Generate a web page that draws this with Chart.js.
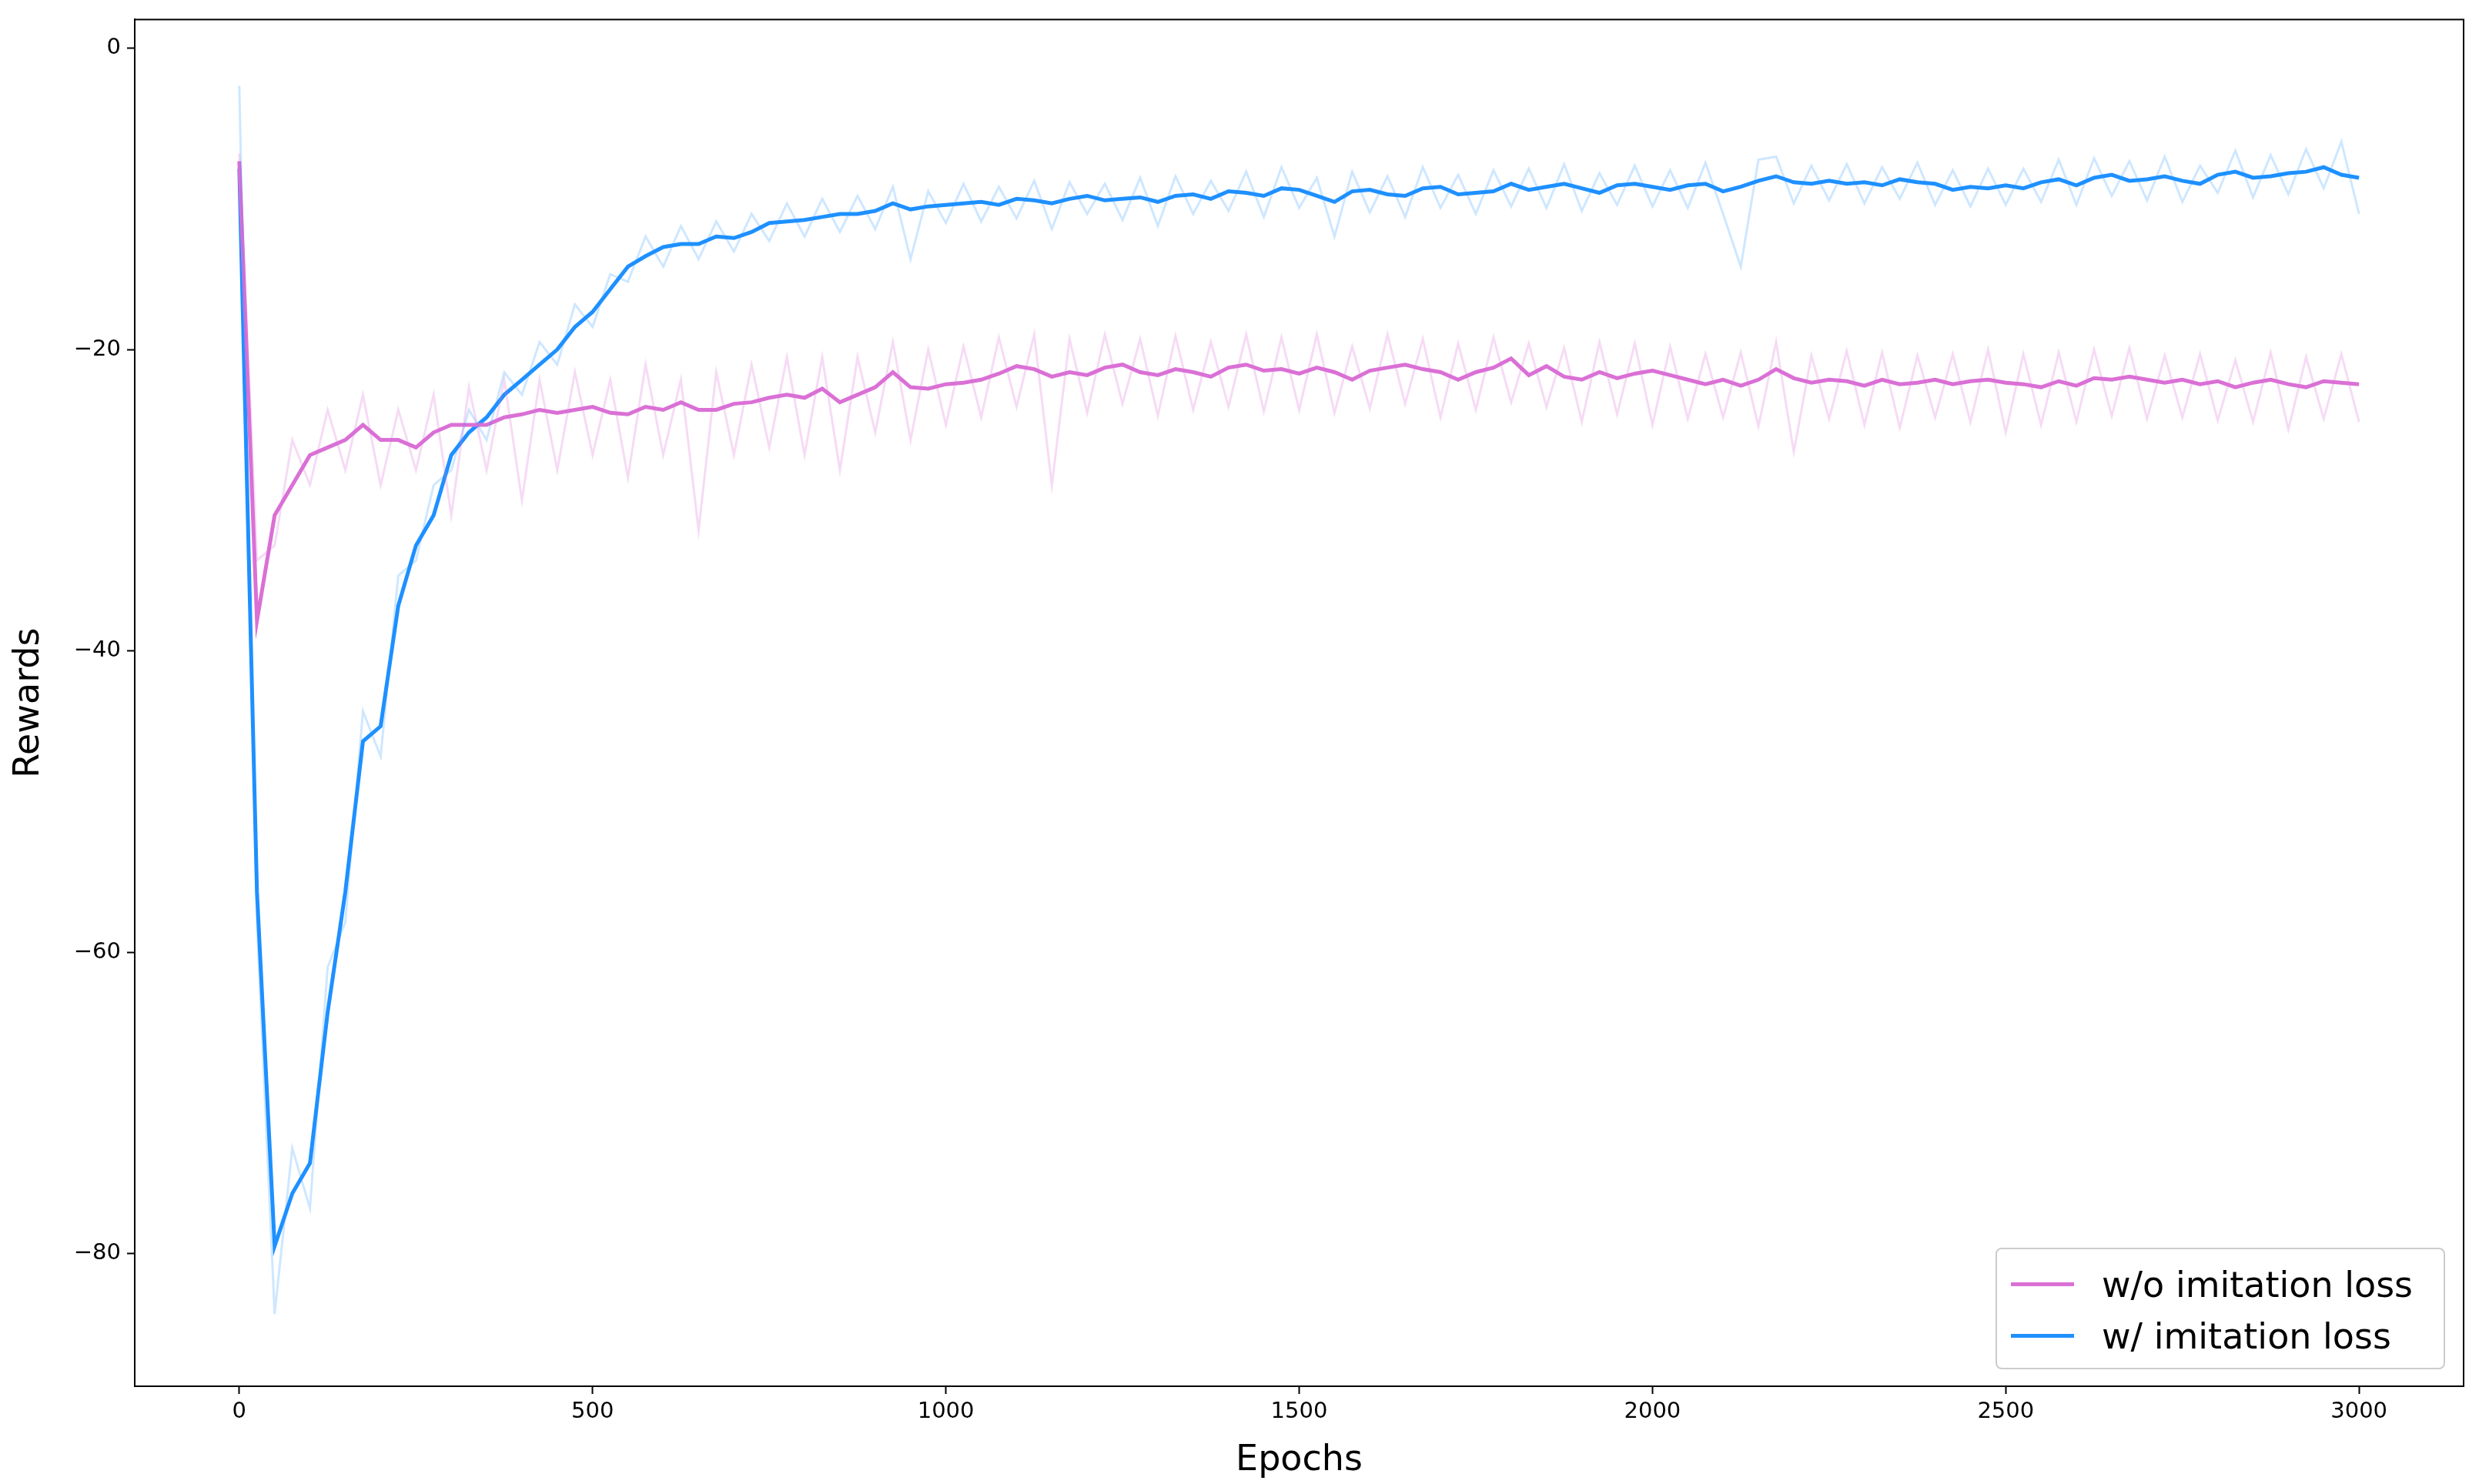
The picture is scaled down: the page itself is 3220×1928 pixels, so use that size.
<!DOCTYPE html>
<html><head><meta charset="utf-8">
<script src="https://cdn.jsdelivr.net/npm/chart.js@4/dist/chart.umd.min.js"></script>
<style>
html,body{margin:0;padding:0;background:#fff;}
#wrap{position:relative;width:3220px;height:1928px;}
#legend{position:absolute;left:2592px;top:1621px;width:584px;height:158px;box-sizing:border-box;border:2px solid #ccc;border-radius:8px;background:rgba(255,255,255,.85);font-family:"DejaVu Sans";font-size:46px;padding:12px 18px;}
#legend div{display:flex;align-items:center;height:67px;}
#legend span.l{display:inline-block;width:82px;height:5px;margin-right:36px;}
</style></head>
<body><div id="wrap"><canvas id="c" width="3220" height="1928"></canvas>
<div id="legend"><div><span class="l" style="background:#da70d6"></span>w/o imitation loss</div><div><span class="l" style="background:#1e90ff"></span>w/ imitation loss</div></div></div>
<script>
const epochs = Array.from({ length: 121 }, (_, i) => i * 25);
const yTicks = [0, -20, -40, -60, -80];
const xTicks = [0, 500, 1000, 1500, 2000, 2500, 3000];

const blueSmooth = [-8,-56,-79.5,-76,-74,-64,-56,-46,-45,-37,-33,-31,-27,-25.5,-24.5,-23,-22,-21,-20,-18.5,-17.5,-16,-14.5,-13.8,-13.2,-13,-13,-12.5,-12.6,-12.2,-11.6,-11.5,-11.4,-11.2,-11,-11,-10.8,-10.3,-10.7,-10.5,-10.4,
-10.3,-10.2,-10.4,-10.0,-10.1,-10.3,-10.0,-9.8,-10.1,-10.0,-9.9,-10.2,-9.8,-9.7,-10.0,-9.5,-9.6,-9.8,-9.3,-9.4,
-9.8,-10.2,-9.5,-9.4,-9.7,-9.8,-9.3,-9.2,-9.7,-9.6,-9.5,-9.0,-9.4,-9.2,-9.0,-9.3,-9.6,-9.1,-9.0,-9.2,
-9.4,-9.1,-9.0,-9.5,-9.2,-8.8,-8.5,-8.9,-9.0,-8.8,-9.0,-8.9,-9.1,-8.7,-8.9,-9.0,-9.4,-9.2,-9.3,-9.1,
-9.3,-8.9,-8.7,-9.1,-8.6,-8.4,-8.8,-8.7,-8.5,-8.8,-9.0,-8.4,-8.2,-8.6,-8.5,-8.3,-8.2,-7.9,-8.4,-8.6];
const blueRaw = [-2.5,-58,-84,-73,-77,-61,-58,-44,-47,-35,-34,-29,-28,-24,-26,-21.5,-23,-19.5,-21,-17,-18.5,-15,-15.5,-12.5,-14.5,-11.8,-14,-11.5,-13.5,-11,-12.8,-10.3,-12.5,-10,-12.2,-9.8,-12,-9.2,-14,-9.5,-11.6,
-9.0,-11.5,-9.2,-11.3,-8.8,-12.0,-8.9,-11.0,-9.0,-11.4,-8.6,-11.8,-8.5,-11.0,-8.8,-10.8,-8.2,-11.2,-7.9,-10.6,
-8.6,-12.5,-8.2,-10.9,-8.5,-11.2,-7.9,-10.6,-8.4,-11.0,-8.1,-10.5,-8.0,-10.6,-7.7,-10.8,-8.3,-10.4,-7.8,-10.5,
-8.1,-10.6,-7.6,-11.0,-14.5,-7.4,-7.2,-10.3,-7.8,-10.1,-7.7,-10.3,-7.9,-10.0,-7.6,-10.4,-8.1,-10.5,-8.0,-10.4,
-8.0,-10.2,-7.4,-10.4,-7.3,-9.8,-7.5,-10.1,-7.2,-10.2,-7.8,-9.6,-6.8,-9.9,-7.1,-9.7,-6.7,-9.3,-6.2,-11.0];

const pinkSmooth = [-7.5,-38,-31,-29,-27,-26.5,-26,-25,-26,-26,-26.5,-25.5,-25,-25,-25,-24.5,-24.3,-24,-24.2,-24,-23.8,-24.2,-24.3,-23.8,-24,-23.5,-24,-24,-23.6,-23.5,-23.2,-23,-23.2,-22.6,-23.5,-23,-22.5,-21.5,-22.5,-22.6,-22.3,
-22.2,-22.0,-21.6,-21.1,-21.3,-21.8,-21.5,-21.7,-21.2,-21.0,-21.5,-21.7,-21.3,-21.5,-21.8,-21.2,-21.0,-21.4,-21.3,-21.6,
-21.2,-21.5,-22.0,-21.4,-21.2,-21.0,-21.3,-21.5,-22.0,-21.5,-21.2,-20.6,-21.7,-21.1,-21.8,-22.0,-21.5,-21.9,-21.6,-21.4,
-21.7,-22.0,-22.3,-22.0,-22.4,-22.0,-21.3,-21.9,-22.2,-22.0,-22.1,-22.4,-22.0,-22.3,-22.2,-22.0,-22.3,-22.1,-22.0,-22.2,
-22.3,-22.5,-22.1,-22.4,-21.9,-22.0,-21.8,-22.0,-22.2,-22.0,-22.3,-22.1,-22.5,-22.2,-22.0,-22.3,-22.5,-22.1,-22.2,-22.3];
const pinkRaw = [-7,-34,-33,-26,-29,-24,-28,-23,-29,-24,-28,-23,-31,-22.5,-28,-22,-30,-22,-28,-21.5,-27,-22,-28.5,-21,-27,-22,-32,-21.5,-27,-21,-26.5,-20.5,-27,-20.5,-28,-20.5,-25.5,-19.5,-26,-20,-25,
-19.8,-24.5,-19.2,-23.8,-19.0,-29.0,-19.3,-24.2,-19.0,-23.6,-19.3,-24.4,-19.1,-24.0,-19.5,-23.8,-19.0,-24.1,-19.2,-24.0,
-19.0,-24.2,-19.8,-23.9,-19.0,-23.6,-19.3,-24.5,-19.6,-24.0,-19.2,-23.5,-19.6,-23.8,-19.9,-24.8,-19.5,-24.3,-19.6,-25.0,
-19.8,-24.6,-20.3,-24.5,-20.2,-25.1,-19.5,-26.8,-20.4,-24.6,-20.1,-25.0,-20.2,-25.2,-20.4,-24.5,-20.3,-24.8,-20.0,-25.5,
-20.3,-25.0,-20.2,-24.8,-20.0,-24.4,-19.9,-24.6,-20.4,-24.5,-20.3,-24.7,-20.7,-24.8,-20.2,-25.3,-20.5,-24.6,-20.3,-24.8];

const frame = {
    id: "frame",
    afterDraw(chart) {
        const { ctx, chartArea: a } = chart;
        ctx.save();
        ctx.strokeStyle = "#000";
        ctx.lineWidth = 2;
        ctx.strokeRect(a.left, a.top, a.right - a.left, a.bottom - a.top);
        ctx.restore();
    }
};

function line(ys, color, width) {
    return {
        data: epochs.map((x, i) => ({ x, y: ys[i] })),
        borderColor: color, borderWidth: width, pointRadius: 0, tension: 0, fill: false
    };
}

const fmt = (v) => String(v).replace("-", "\u2212");

Chart.defaults.font.family = "DejaVu Sans";
new Chart(document.getElementById("c"), {
    type: "line",
    data: {
        datasets: [
            line(pinkRaw, "rgba(218,112,214,0.25)", 3),
            line(blueRaw, "rgba(30,144,255,0.22)", 3),
            line(pinkSmooth, "#da70d6", 5),
            line(blueSmooth, "#1e90ff", 5)
        ]
    },
    options: {
        responsive: false, animation: false, devicePixelRatio: 1,
        layout: { padding: { top: 25, right: 20 } },
        plugins: { legend: { display: false }, tooltip: { enabled: false } },
        scales: {
            x: {
                type: "linear", min: -148, max: 3148,
                afterFit: (s) => { s.height = 127; },
                afterBuildTicks: (s) => { s.ticks = xTicks.map((v) => ({ value: v })); },
                grid: { drawOnChartArea: false, color: "#000", tickLength: 10, tickWidth: 2 },
                border: { color: "#000", width: 2 },
                ticks: { color: "#000", font: { size: 29 }, padding: 6, callback: fmt },
                title: { display: true, text: "Epochs", color: "#000", font: { size: 46 }, padding: 2 }
            },
            y: {
                min: -88.8, max: 1.9,
                afterFit: (s) => { s.width = 175; },
                afterBuildTicks: (s) => { s.ticks = yTicks.map((v) => ({ value: v })); },
                grid: { drawOnChartArea: false, color: "#000", tickLength: 10, tickWidth: 2 },
                border: { color: "#000", width: 2 },
                ticks: { color: "#000", font: { size: 29 }, padding: 8, callback: fmt },
                title: { display: true, text: "Rewards", color: "#000", font: { size: 46 }, padding: 10 }
            }
        }
    },
    plugins: [frame]
});
</script></body></html>
